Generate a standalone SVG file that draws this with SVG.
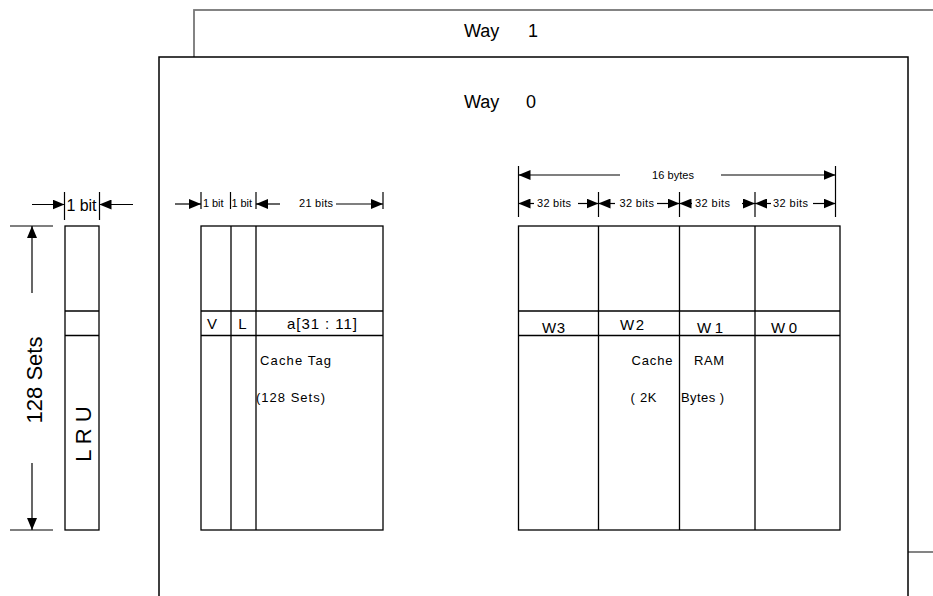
<svg xmlns="http://www.w3.org/2000/svg" width="933" height="596" viewBox="0 0 933 596">
<defs>
<style>
text{font-family:"Liberation Sans",Arial,sans-serif;fill:#000}
.way{font-size:18px}
.big{font-size:22px}
.mid{font-size:15px}
.sm{font-size:13px}
.xs{font-size:11px}
.ln{stroke:#000;stroke-width:1.3;fill:none}
.bx{stroke:#000;stroke-width:1.3;fill:#fff}
.dim{stroke:#000;stroke-width:1.2;fill:none}
.arr{stroke:#000;stroke-width:1.2;fill:none;marker-end:url(#ah)}
</style>
<marker id="ah" viewBox="0 0 12 10" refX="12" refY="5" markerWidth="12" markerHeight="10" markerUnits="userSpaceOnUse" orient="auto">
<path d="M0,0 L12,5 L0,10 z" fill="#000"/>
</marker>
</defs>
<rect width="933" height="596" fill="#fff"/>

<g id="way1">
<rect x="194" y="10" width="800" height="542" fill="#fff" stroke="#777" stroke-width="1.8"/>
<text class="way"><tspan x="464" y="37">Way</tspan><tspan x="528" y="37">1</tspan></text>
</g>

<g id="way0">
<rect x="159" y="57" width="749" height="600" fill="#fff" stroke="#000" stroke-width="1.5"/>
<text class="way"><tspan x="464" y="108">Way</tspan><tspan x="526" y="108">0</tspan></text>
</g>

<g id="lru">
<rect class="bx" x="65" y="226" width="34" height="304"/>
<line class="ln" x1="65" y1="311" x2="99" y2="311"/>
<line class="ln" x1="65" y1="335.5" x2="99" y2="335.5"/>
<text class="big" transform="translate(90.5,434) rotate(-90)" text-anchor="middle">L R U</text>
</g>

<g id="cache-tag">
<rect class="bx" x="201" y="226" width="182" height="304"/>
<line class="ln" x1="231" y1="226" x2="231" y2="530"/>
<line class="ln" x1="256" y1="226" x2="256" y2="530"/>
<line class="ln" x1="201" y1="311" x2="383" y2="311"/>
<line class="ln" x1="201" y1="335.5" x2="383" y2="335.5"/>
<text class="mid" x="212" y="329" text-anchor="middle">V</text>
<text class="mid" x="242.5" y="329" text-anchor="middle">L</text>
<text class="mid" x="287" y="329" textLength="70" lengthAdjust="spacing">a[31 : 11]</text>
<text class="sm" x="260" y="365" textLength="71" lengthAdjust="spacing">Cache Tag</text>
<text class="sm" x="256" y="401.5" textLength="69" lengthAdjust="spacing">(128 Sets)</text>
</g>

<g id="cache-ram">
<rect class="bx" x="518.5" y="226" width="321.5" height="304"/>
<line class="ln" x1="598.5" y1="226" x2="598.5" y2="530"/>
<line class="ln" x1="679.5" y1="226" x2="679.5" y2="530"/>
<line class="ln" x1="755" y1="226" x2="755" y2="530"/>
<line class="ln" x1="518.5" y1="311" x2="840" y2="311"/>
<line class="ln" x1="518.5" y1="335.5" x2="840" y2="335.5"/>
<text class="mid" x="542" y="332.5" textLength="23" lengthAdjust="spacing">W3</text>
<text class="mid" x="620" y="330" textLength="24" lengthAdjust="spacing">W2</text>
<text class="mid" x="697" y="333" textLength="26" lengthAdjust="spacing">W1</text>
<text class="mid" x="771" y="333" textLength="26" lengthAdjust="spacing">W0</text>
<text class="sm" x="631.5" y="365" textLength="41" lengthAdjust="spacing">Cache</text>
<text class="sm" x="694" y="365" textLength="30" lengthAdjust="spacing">RAM</text>
<text class="sm" x="630.5" y="401.5" textLength="26" lengthAdjust="spacing">( 2K</text>
<text class="sm" x="681" y="401.5" textLength="43" lengthAdjust="spacing">Bytes )</text>
</g>

<g id="connectors">
<line class="dim" x1="64.5" y1="192" x2="64.5" y2="220"/>
<line class="dim" x1="99.5" y1="192" x2="99.5" y2="220"/>
<line class="arr" x1="32" y1="204.5" x2="64.5" y2="204.5"/>
<line class="arr" x1="133" y1="204.5" x2="99.5" y2="204.5"/>
<text x="66.5" y="211" font-size="16" textLength="30" lengthAdjust="spacing">1 bit</text>
<line class="dim" x1="10" y1="226" x2="53" y2="226"/>
<line class="dim" x1="10" y1="530" x2="53" y2="530"/>
<line class="arr" x1="32" y1="293" x2="32" y2="226"/>
<line class="arr" x1="32" y1="463" x2="32" y2="530"/>
<text class="big" transform="translate(42,380) rotate(-90)" text-anchor="middle">128 Sets</text>
<line class="dim" x1="201" y1="192" x2="201" y2="209"/>
<line class="dim" x1="230.5" y1="192" x2="230.5" y2="209"/>
<line class="dim" x1="256" y1="192" x2="256" y2="209"/>
<line class="dim" x1="383" y1="192" x2="383" y2="209"/>
<line class="arr" x1="175" y1="204" x2="201" y2="204"/>
<text class="xs" x="203" y="207" textLength="20.5" lengthAdjust="spacing">1 bit</text>
<text class="xs" x="231.5" y="207" textLength="20.5" lengthAdjust="spacing">1 bit</text>
<line class="arr" x1="280" y1="204" x2="256" y2="204"/>
<text class="xs" x="299" y="207" textLength="34" lengthAdjust="spacing">21 bits</text>
<line class="arr" x1="336" y1="204" x2="383" y2="204"/>
<line class="dim" x1="518.5" y1="166" x2="518.5" y2="217"/>
<line class="dim" x1="835.5" y1="166" x2="835.5" y2="217"/>
<line class="dim" x1="598.5" y1="192" x2="598.5" y2="217"/>
<line class="dim" x1="679.5" y1="192" x2="679.5" y2="217"/>
<line class="dim" x1="755" y1="192" x2="755" y2="217"/>
<line class="arr" x1="620" y1="175" x2="518.5" y2="175"/>
<text class="xs" x="652" y="179" textLength="42" lengthAdjust="spacing">16 bytes</text>
<line class="arr" x1="721" y1="175" x2="835.5" y2="175"/>
<line class="arr" x1="534" y1="203.5" x2="518.5" y2="203.5"/>
<text class="xs" x="537" y="207" textLength="34" lengthAdjust="spacing">32 bits</text>
<line class="arr" x1="578" y1="203.5" x2="598.5" y2="203.5"/>
<line class="arr" x1="615" y1="203.5" x2="598.5" y2="203.5"/>
<text class="xs" x="619.5" y="207" textLength="34.5" lengthAdjust="spacing">32 bits</text>
<line class="arr" x1="657" y1="203.5" x2="679.5" y2="203.5"/>
<line class="arr" x1="692" y1="203.5" x2="679.5" y2="203.5"/>
<text class="xs" x="695" y="207" textLength="35" lengthAdjust="spacing">32 bits</text>
<line class="arr" x1="742" y1="203.5" x2="755" y2="203.5"/>
<line class="arr" x1="771" y1="203.5" x2="755" y2="203.5"/>
<text class="xs" x="773" y="207" textLength="35" lengthAdjust="spacing">32 bits</text>
<line class="arr" x1="813" y1="203.5" x2="835.5" y2="203.5"/>
</g>
</svg>
